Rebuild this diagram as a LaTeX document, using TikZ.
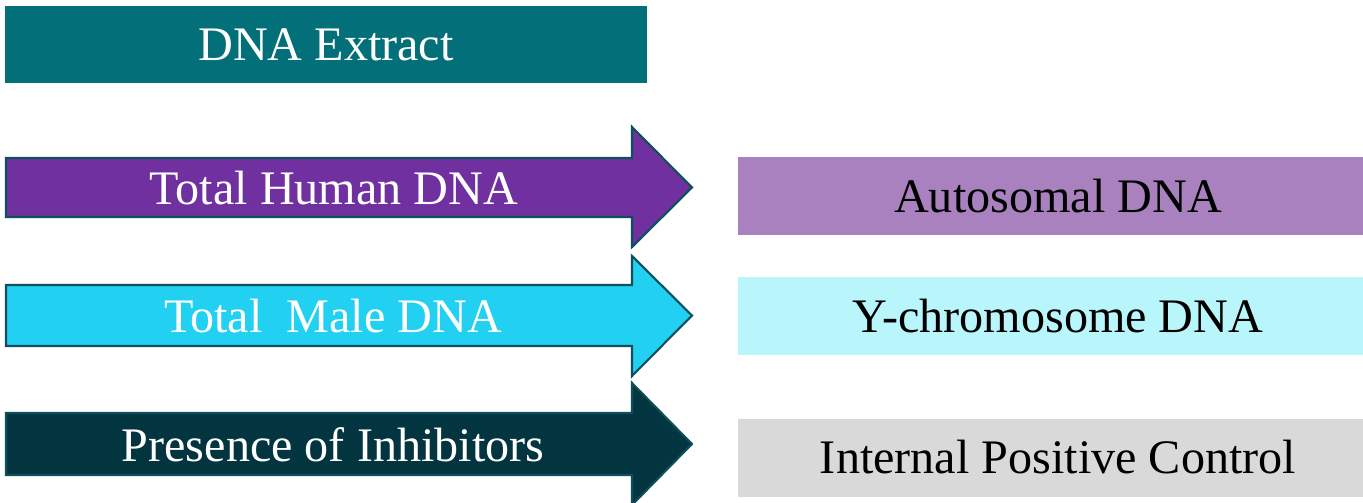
\documentclass[tikz,border=0pt]{standalone}
\usepackage{fontspec}
\setmainfont{Liberation Serif}
\definecolor{extract}{HTML}{036F78}
\definecolor{human}{HTML}{7030A0}
\definecolor{male}{HTML}{22D0F2}
\definecolor{inhib}{HTML}{033540}
\definecolor{rim}{HTML}{0D4F5C}
\definecolor{auto}{HTML}{A981BE}
\definecolor{ychr}{HTML}{B8F6FC}
\definecolor{ipc}{HTML}{D9D9D9}
\tikzset{
  label/.style={font=\fontsize{13.7}{16}\selectfont},
  bar/.style={label, inner sep=0pt, minimum height=0.78cm},
  blockarrow/.style={draw=rim, line width=0.6pt, line join=miter}
}
\begin{document}
\begin{tikzpicture}
  \useasboundingbox (0,0) rectangle (13.63,5.02);
  \node[bar, fill=extract, text=white, minimum width=6.42cm, minimum height=0.77cm] (extract) at (3.26,4.575) {DNA Extract};
  % block arrows
  \filldraw[blockarrow, fill=human] (0.06,3.44) -- (6.32,3.44) -- (6.32,3.75) -- (6.92,3.145) -- (6.32,2.55) -- (6.32,2.85) -- (0.06,2.85) -- cycle;
  \filldraw[blockarrow, fill=male] (0.06,2.17) -- (6.32,2.17) -- (6.32,2.46) -- (6.92,1.865) -- (6.32,1.26) -- (6.32,1.56) -- (0.06,1.56) -- cycle;
  \filldraw[blockarrow, fill=inhib] (0.06,0.89) -- (6.32,0.89) -- (6.32,1.19) -- (6.92,0.58) -- (6.32,-0.03) -- (6.32,0.27) -- (0.06,0.27) -- cycle;
  \node[label, text=white] (human) at (3.34,3.14) {Total Human DNA};
  \node[label, text=white] (male) at (3.33,1.86) {Total~~Male DNA};
  \node[label, text=white] (inhib) at (3.33,0.57) {Presence of Inhibitors};
  % targets
  \node[bar, fill=auto, minimum width=6.25cm] (auto) at (10.505,3.06) {};
  \node[bar, fill=ychr, minimum width=6.25cm] (ychr) at (10.505,1.86) {};
  \node[bar, fill=ipc, minimum width=6.25cm] (ipc) at (10.505,0.445) {};
  \node[label] (autotext) at (10.58,3.06) {Autosomal DNA};
  \node[label] (ychrtext) at (10.58,1.86) {Y-chromosome DNA};
  \node[label] (ipctext) at (10.58,0.445) {Internal Positive Control};
\end{tikzpicture}
\end{document}
